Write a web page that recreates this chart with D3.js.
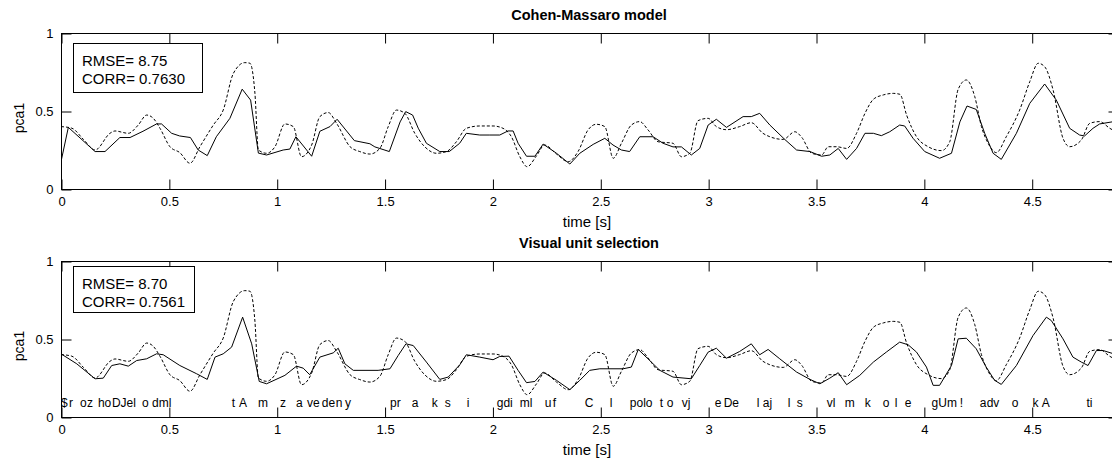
<!DOCTYPE html>
<html lang="en">
  <head>
    <meta charset="UTF-8" />
    <title>pca1 trajectories</title>
    <script src="https://d3js.org/d3.v7.min.js"></script>
    <style>
      body {
        margin: 0;
        background: #fff;
      }
      svg text {
        font-family: "Liberation Sans", Arial, sans-serif;
        fill: #000;
      }
    </style>
  </head>
  <body>
    <div id="chart"></div>
    <script>
      // measured trajectory (dashed), same in both panels
      const measuredT = [0, 0.05, 0.104, 0.158, 0.227, 0.25, 0.312, 0.358, 0.397, 0.428, 0.459, 0.505, 0.551, 0.598, 0.644, 0.706, 0.752, 0.799, 0.852, 0.876, 0.899, 0.915, 0.953, 0.992, 1.038, 1.077, 1.115, 1.162, 1.2, 1.239, 1.278, 1.34, 1.385, 1.432, 1.478, 1.517, 1.555, 1.594, 1.64, 1.686, 1.741, 1.787, 1.833, 1.879, 1.941, 2.003, 2.049, 2.088, 2.127, 2.161, 2.204, 2.242, 2.297, 2.351, 2.397, 2.443, 2.482, 2.521, 2.56, 2.598, 2.644, 2.683, 2.722, 2.768, 2.837, 2.876, 2.915, 2.953, 3.0, 3.038, 3.085, 3.146, 3.2, 3.254, 3.286, 3.348, 3.402, 3.434, 3.48, 3.526, 3.557, 3.596, 3.642, 3.688, 3.727, 3.766, 3.812, 3.858, 3.889, 3.92, 3.966, 4.02, 4.082, 4.12, 4.159, 4.197, 4.236, 4.267, 4.298, 4.336, 4.382, 4.444, 4.491, 4.53, 4.56, 4.599, 4.645, 4.676, 4.73, 4.769, 4.815, 4.862, 4.88];
      const measuredV = [0.4, 0.39, 0.318, 0.25, 0.357, 0.372, 0.357, 0.41, 0.474, 0.453, 0.389, 0.271, 0.233, 0.165, 0.271, 0.41, 0.506, 0.741, 0.81, 0.806, 0.613, 0.25, 0.229, 0.271, 0.417, 0.4, 0.207, 0.282, 0.464, 0.49, 0.42, 0.271, 0.24, 0.224, 0.26, 0.4, 0.506, 0.485, 0.357, 0.271, 0.229, 0.24, 0.303, 0.389, 0.404, 0.404, 0.389, 0.335, 0.207, 0.143, 0.212, 0.282, 0.224, 0.175, 0.24, 0.378, 0.415, 0.4, 0.197, 0.293, 0.41, 0.432, 0.378, 0.303, 0.293, 0.207, 0.229, 0.438, 0.453, 0.4, 0.38, 0.4, 0.425, 0.357, 0.335, 0.318, 0.367, 0.331, 0.229, 0.218, 0.271, 0.271, 0.26, 0.357, 0.485, 0.575, 0.603, 0.613, 0.607, 0.474, 0.335, 0.271, 0.246, 0.303, 0.639, 0.699, 0.592, 0.4, 0.293, 0.233, 0.335, 0.506, 0.688, 0.806, 0.784, 0.635, 0.325, 0.271, 0.314, 0.421, 0.432, 0.389, 0.375];

      // Cohen-Massaro model output (solid, top panel)
      const cohenT = [0, 0.034, 0.158, 0.204, 0.273, 0.32, 0.38, 0.443, 0.466, 0.513, 0.55, 0.6, 0.636, 0.678, 0.72, 0.783, 0.84, 0.879, 0.915, 0.953, 1.03, 1.061, 1.089, 1.162, 1.2, 1.247, 1.28, 1.36, 1.432, 1.455, 1.522, 1.572, 1.598, 1.63, 1.656, 1.694, 1.756, 1.8, 1.848, 1.879, 1.941, 1.988, 2.034, 2.072, 2.096, 2.119, 2.158, 2.197, 2.235, 2.297, 2.359, 2.405, 2.467, 2.521, 2.559, 2.598, 2.636, 2.683, 2.745, 2.791, 2.837, 2.876, 2.922, 2.961, 3.0, 3.038, 3.085, 3.162, 3.2, 3.239, 3.286, 3.355, 3.41, 3.472, 3.526, 3.564, 3.603, 3.642, 3.688, 3.727, 3.766, 3.803, 3.842, 3.888, 3.911, 3.95, 4.004, 4.073, 4.128, 4.167, 4.2, 4.243, 4.282, 4.321, 4.359, 4.429, 4.491, 4.56, 4.614, 4.676, 4.722, 4.745, 4.784, 4.815, 4.88];
      const cohenV = [0.175, 0.395, 0.24, 0.24, 0.33, 0.33, 0.37, 0.417, 0.417, 0.357, 0.34, 0.33, 0.25, 0.214, 0.335, 0.453, 0.64, 0.57, 0.23, 0.218, 0.25, 0.256, 0.335, 0.21, 0.37, 0.4, 0.447, 0.31, 0.29, 0.27, 0.24, 0.43, 0.496, 0.474, 0.39, 0.293, 0.24, 0.24, 0.293, 0.357, 0.346, 0.346, 0.346, 0.372, 0.372, 0.293, 0.21, 0.21, 0.288, 0.229, 0.16, 0.229, 0.286, 0.325, 0.282, 0.25, 0.24, 0.335, 0.335, 0.293, 0.27, 0.27, 0.218, 0.26, 0.41, 0.447, 0.395, 0.464, 0.464, 0.485, 0.41, 0.318, 0.25, 0.24, 0.21, 0.218, 0.26, 0.19, 0.26, 0.357, 0.357, 0.342, 0.367, 0.41, 0.404, 0.325, 0.24, 0.197, 0.229, 0.43, 0.532, 0.51, 0.357, 0.229, 0.19, 0.357, 0.549, 0.673, 0.57, 0.389, 0.346, 0.34, 0.389, 0.417, 0.432];

      // visual unit selection output (solid, bottom panel)
      const unitT = [0, 0.073, 0.158, 0.196, 0.235, 0.273, 0.312, 0.351, 0.397, 0.443, 0.474, 0.551, 0.629, 0.678, 0.714, 0.752, 0.791, 0.842, 0.884, 0.919, 0.953, 1.038, 1.092, 1.123, 1.153, 1.2, 1.262, 1.285, 1.316, 1.355, 1.47, 1.525, 1.563, 1.599, 1.633, 1.694, 1.756, 1.795, 1.849, 1.879, 1.941, 2.003, 2.034, 2.077, 2.119, 2.158, 2.197, 2.235, 2.297, 2.359, 2.405, 2.451, 2.498, 2.606, 2.644, 2.676, 2.721, 2.776, 2.837, 2.922, 2.961, 3.0, 3.038, 3.085, 3.146, 3.2, 3.239, 3.278, 3.332, 3.41, 3.472, 3.518, 3.564, 3.603, 3.642, 3.703, 3.766, 3.826, 3.888, 3.927, 3.966, 4.012, 4.043, 4.073, 4.128, 4.159, 4.197, 4.243, 4.289, 4.328, 4.359, 4.429, 4.506, 4.568, 4.591, 4.645, 4.691, 4.73, 4.761, 4.8, 4.831, 4.88];
      const unitV = [0.405, 0.341, 0.245, 0.249, 0.33, 0.341, 0.326, 0.362, 0.373, 0.405, 0.399, 0.33, 0.277, 0.241, 0.384, 0.405, 0.448, 0.64, 0.469, 0.228, 0.213, 0.267, 0.326, 0.313, 0.271, 0.384, 0.411, 0.441, 0.341, 0.299, 0.299, 0.309, 0.394, 0.469, 0.458, 0.352, 0.241, 0.256, 0.335, 0.399, 0.384, 0.367, 0.388, 0.39, 0.299, 0.22, 0.228, 0.288, 0.235, 0.175, 0.235, 0.299, 0.309, 0.309, 0.32, 0.433, 0.373, 0.299, 0.256, 0.245, 0.33, 0.416, 0.441, 0.377, 0.42, 0.469, 0.399, 0.433, 0.373, 0.288, 0.241, 0.213, 0.249, 0.284, 0.207, 0.267, 0.352, 0.416, 0.48, 0.463, 0.416, 0.32, 0.203, 0.203, 0.33, 0.501, 0.505, 0.437, 0.32, 0.235, 0.209, 0.33, 0.522, 0.64, 0.618, 0.501, 0.384, 0.352, 0.33, 0.426, 0.426, 0.405];

      // phone labels of the selected units (bottom panel)
      const phones = ["$", "r", "o", "z", "ho", "DJel", "o", "dml", "t", "A", "m", "z", "a", "ve", "de", "n", "y", "pr", "a", "k", "s", "i", "gdi", "ml", "u", "f", "C", "l", "polo", "t", "o", "vj", "e", "De", "l", "aj", "l", "s", "vl", "m", "k", "o", "l", "e", "gUm", "!", "a", "dv", "o", "k", "A", "ti"];
      const phoneTimes = [0, 0.037, 0.088, 0.12, 0.171, 0.236, 0.375, 0.422, 0.792, 0.825, 0.913, 1.015, 1.089, 1.14, 1.209, 1.274, 1.316, 1.525, 1.626, 1.719, 1.779, 1.881, 2.02, 2.127, 2.243, 2.28, 2.428, 2.544, 2.637, 2.776, 2.808, 2.878, 3.031, 3.072, 3.225, 3.253, 3.369, 3.411, 3.55, 3.633, 3.726, 3.809, 3.865, 3.911, 4.036, 4.166, 4.259, 4.291, 4.407, 4.504, 4.546, 4.754];

      // axes ticks and labels
      const xTicks = [0, 0.5, 1, 1.5, 2, 2.5, 3, 3.5, 4, 4.5];
      const yTicks = [0, 0.5, 1];
      const titles = ["Cohen-Massaro model", "Visual unit selection"];
      const statLines = [
        ["RMSE= 8.75", "CORR= 0.7630"],
        ["RMSE= 8.70", "CORR= 0.7561"],
      ];

      const width = 1112;
      const height = 459;

      const svg = d3
        .select("#chart")
        .append("svg")
        .attr("width", width)
        .attr("height", height);

      const x = d3.scaleLinear().domain([0, 4.9]).range([61, 1118]);

      const zip = (ts, vs) => ts.map((t, i) => [t, vs[i]]);

      function drawPanel(idx, top, bottom, model, legend, labels) {
        const y = d3.scaleLinear().domain([0, 1]).range([bottom, top]);
        const g = svg.append("g");

        g.append("clipPath")
          .attr("id", "clip" + idx)
          .append("rect")
          .attr("x", x.range()[0])
          .attr("y", top)
          .attr("width", x.range()[1] - x.range()[0])
          .attr("height", bottom - top);

        // title
        g.append("text")
          .attr("x", 589)
          .attr("y", top - 13)
          .attr("text-anchor", "middle")
          .attr("font-size", 14.5)
          .attr("font-weight", "bold")
          .text(titles[idx]);

        // phone labels go under the curves
        if (labels) {
          g.append("g")
            .selectAll("text")
            .data(labels)
            .enter()
            .append("text")
            .attr("x", (d) => x(d[0]))
            .attr("y", bottom - 10)
            .attr("font-size", 12)
            .text((d) => d[1]);
        }

        const line = d3
          .line()
          .x((d) => x(d[0]))
          .y((d) => y(d[1]));

        const lines = g.append("g").attr("clip-path", `url(#clip${idx})`);

        lines
          .append("path")
          .attr("d", line.curve(d3.curveMonotoneX)(zip(measuredT, measuredV)))
          .attr("fill", "none")
          .attr("stroke", "#000")
          .attr("stroke-width", 1)
          .attr("stroke-dasharray", "3,2");

        lines
          .append("path")
          .attr("d", line.curve(d3.curveLinear)(model))
          .attr("fill", "none")
          .attr("stroke", "#000")
          .attr("stroke-width", 1);

        // box
        g.append("rect")
          .attr("x", x.range()[0] + 0.5)
          .attr("y", top + 0.5)
          .attr("width", x.range()[1] - x.range()[0])
          .attr("height", bottom - top)
          .attr("fill", "none")
          .attr("stroke", "#000");

        // axes, ticks pointing inward
        const fontSet = (sel) =>
          sel
            .attr("font-size", 13)
            .attr("font-family", '"Liberation Sans", Arial, sans-serif');

        g.append("g")
          .attr("transform", `translate(0.5,${bottom + 0.5})`)
          .call(
            d3.axisBottom(x).tickValues(xTicks).tickSizeInner(-10).tickSizeOuter(0).tickPadding(7).tickFormat((d) => d)
          )
          .call(fontSet)
          .call((a) => a.select(".domain").remove());

        g.append("g")
          .attr("transform", `translate(0.5,${top + 0.5})`)
          .call(d3.axisTop(x).tickValues(xTicks).tickSizeInner(-10).tickSizeOuter(0).tickFormat(""))
          .call((a) => a.select(".domain").remove());

        g.append("g")
          .attr("transform", `translate(${x.range()[0] + 0.5},0.5)`)
          .call(
            d3.axisLeft(y).tickValues(yTicks).tickSizeInner(-10).tickSizeOuter(0).tickPadding(8).tickFormat((d) => d)
          )
          .call(fontSet)
          .call((a) => a.select(".domain").remove());

        g.append("g")
          .attr("transform", `translate(${x.range()[1] + 0.5},0.5)`)
          .call(d3.axisRight(y).tickValues(yTicks).tickSizeInner(-10).tickSizeOuter(0).tickFormat(""))
          .call((a) => a.select(".domain").remove());

        // axis labels
        g.append("text")
          .attr("x", 587)
          .attr("y", bottom + 38)
          .attr("text-anchor", "middle")
          .attr("font-size", 15)
          .text("time [s]");

        g.append("text")
          .attr("transform", `translate(24,${(top + bottom) / 2 + 7}) rotate(-90)`)
          .attr("text-anchor", "middle")
          .attr("font-size", 14)
          .text("pca1");

        // stats box
        g.append("rect")
          .attr("x", legend.x + 0.5)
          .attr("y", legend.y + 0.5)
          .attr("width", legend.w)
          .attr("height", legend.h)
          .attr("fill", "#fff")
          .attr("stroke", "#000");

        g.selectAll(".stat")
          .data(statLines[idx])
          .enter()
          .append("text")
          .attr("class", "stat")
          .attr("x", legend.x + 9)
          .attr("y", (d, i) => legend.y + 23 + i * 17.5)
          .attr("font-size", 15)
          .text((d) => d);
      }

      drawPanel(0, 33, 189, zip(cohenT, cohenV), { x: 73, y: 43, w: 129, h: 49 });
      drawPanel(
        1,
        261,
        417,
        zip(unitT, unitV),
        { x: 73, y: 266, w: 121, h: 46 },
        zip(phoneTimes, phones)
      );
    </script>
  </body>
</html>
